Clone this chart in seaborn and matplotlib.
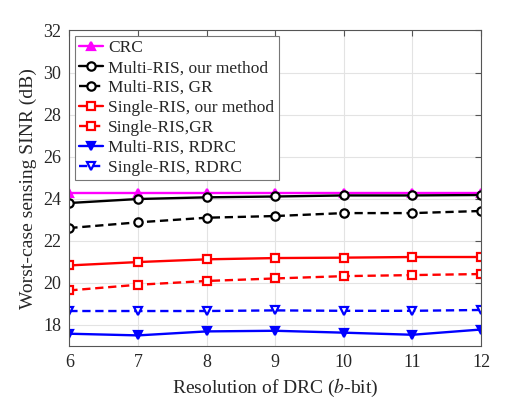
import numpy as np
import pandas as pd
import seaborn as sns
import matplotlib.pyplot as plt

bits = [6, 7, 8, 9, 10, 11, 12]

crc = [24.28, 24.28, 24.28, 24.28, 24.28, 24.28, 24.28]
multi_ours = [23.79, 23.98, 24.06, 24.10, 24.15, 24.15, 24.17]
multi_gr = [22.60, 22.87, 23.09, 23.17, 23.31, 23.31, 23.41]
single_ours = [20.82, 20.98, 21.11, 21.17, 21.19, 21.22, 21.22]
single_gr = [19.63, 19.90, 20.08, 20.20, 20.31, 20.36, 20.41]
multi_rdrc = [17.57, 17.49, 17.68, 17.71, 17.62, 17.52, 17.77]
single_rdrc = [18.65, 18.65, 18.65, 18.68, 18.66, 18.66, 18.70]

series = {
    'CRC': crc,
    'Multi-RIS, our method': multi_ours,
    'Multi-RIS, GR': multi_gr,
    'Single-RIS, our method': single_ours,
    'Single-RIS,GR': single_gr,
    'Multi-RIS, RDRC': multi_rdrc,
    'Single-RIS, RDRC': single_rdrc,
}

# colour, linestyle, marker, filled
styles = {
    'CRC': ('#ff00ff', '-', '^', True),
    'Multi-RIS, our method': ('black', '-', 'o', False),
    'Multi-RIS, GR': ('black', (0, (3.5, 2)), 'o', False),
    'Single-RIS, our method': ('red', '-', 's', False),
    'Single-RIS,GR': ('red', (0, (3.5, 2)), 's', False),
    'Multi-RIS, RDRC': ('blue', '-', 'v', True),
    'Single-RIS, RDRC': ('blue', (0, (3.5, 2)), 'v', False),
}

df = pd.DataFrame(series)
df['bits'] = bits

sns.set_style('whitegrid')
plt.rcParams['font.family'] = ['Liberation Serif', 'DejaVu Serif']
plt.rcParams['mathtext.fontset'] = 'stix'

fig = plt.figure(figsize=(5.31, 3.99), dpi=100)
ax = fig.add_axes([0.1305, 0.1336, 0.7755, 0.79])

handles = []
for name in series:
    c, ls, m, filled = styles[name]
    sns.lineplot(data=df, x='bits', y=name, ax=ax, color=c,
                 marker=m, markersize=6, markeredgewidth=1.6, linewidth=1.7,
                 markerfacecolor=c if filled else 'white', markeredgecolor=c,
                 legend=False)
    line = ax.lines[-1]
    line.set_linestyle(ls)
    line.set_label(name)
    handles.append(line)

ax.set_xlim(6, 12)
ax.set_ylim(17, 32)
ax.set_xticks(bits)
ax.set_yticks([18, 20, 22, 24, 26, 28, 30, 32])
ax.grid(True, color='#e3e3e3', linewidth=0.8)
ax.tick_params(direction='in', length=4, labelsize=13, top=True, right=True,
               color='#555555', pad=6)
for s in ax.spines.values():
    s.set_color('#555555')
    s.set_linewidth(0.8)

ax.set_xlabel('Resolution of DRC ($\\mathit{b}$-bit)', fontsize=14)
ax.set_ylabel('Worst-case sensing SINR (dB)', fontsize=14)

leg = ax.legend(handles=handles, loc='upper left', fontsize=12.5, frameon=True,
                fancybox=False, framealpha=1, edgecolor='#777777',
                handlelength=1.4, handletextpad=0.3, borderpad=0.25,
                labelspacing=0.22, borderaxespad=0.3)
leg.get_frame().set_linewidth(0.8)

fig.savefig('out.png', dpi=100)
